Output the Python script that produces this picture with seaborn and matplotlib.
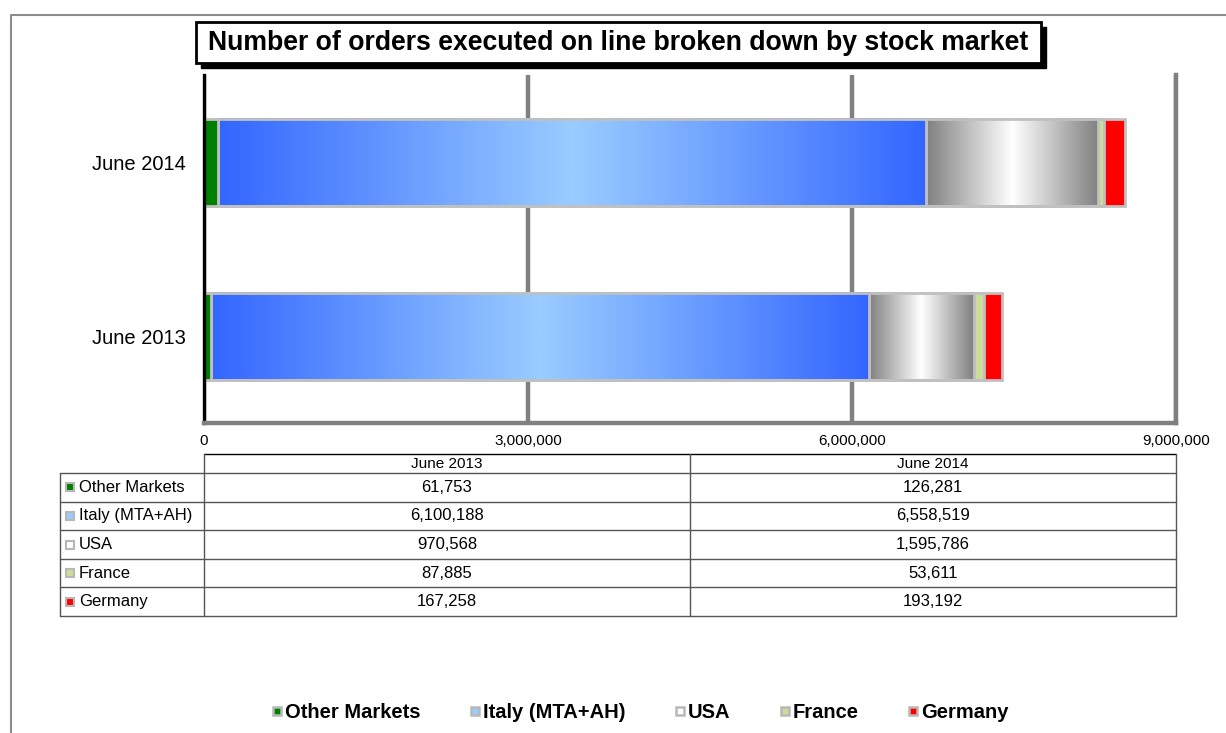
import numpy as np
import pandas as pd
import seaborn as sns
import matplotlib.pyplot as plt
from matplotlib.colors import LinearSegmentedColormap
from matplotlib.lines import Line2D
from matplotlib.patches import Rectangle
from matplotlib.ticker import FuncFormatter

# data
months = ['June 2013', 'June 2014']
markets = ['Other Markets', 'Italy (MTA+AH)', 'USA', 'France', 'Germany']
orders_2013 = [61753, 6100188, 970568, 87885, 167258]
orders_2014 = [126281, 6558519, 1595786, 53611, 193192]
x_ticks = [0, 3000000, 6000000, 9000000]
title = 'Number of orders executed on line broken down by stock market'

colors = ['#008000', '#99ccff', '#ffffff', '#ccdd99', '#ff0000']
gradients = {'Italy (MTA+AH)': ['#3366ff', '#99ccff'], 'USA': ['#808080', '#ffffff']}
edge = '#c0c0c0'

W, H = 1226, 733
def fx(px):
    return px / W
def fy(py):
    return 1 - py / H

sns.set_theme(style='white')
plt.rcParams['font.family'] = ['Liberation Sans', 'DejaVu Sans']
plt.rcParams['text.color'] = 'black'
narrow = ['Liberation Sans Narrow', 'Liberation Sans', 'DejaVu Sans']

df = pd.DataFrame([orders_2013, orders_2014], index=months, columns=markets)
cum = df.cumsum(axis=1)
bar_order = ['June 2014', 'June 2013']
plot_df = cum.reset_index().rename(columns={'index': 'Month'})

fig = plt.figure(figsize=(12.26, 7.33), dpi=100)
ax = fig.add_axes([fx(204), fy(423), fx(1176) - fx(204), fy(75) - fy(423)])

# stacked bars: draw cumulative totals from the longest down
for i in range(len(markets) - 1, -1, -1):
    m = markets[i]
    sns.barplot(data=plot_df, x=m, y='Month', order=bar_order, orient='h',
                color=colors[i], saturation=1, width=0.5,
                edgecolor=edge, linewidth=2, ax=ax)
    if m in gradients:
        cmap = LinearSegmentedColormap.from_list(m, gradients[m])
        t = np.linspace(0, 1, 256)
        grad = (1 - np.abs(2 * t - 1))[np.newaxis, :]
        prev = markets[i - 1]
        for p, month in zip(ax.patches[-2:], bar_order):
            x0 = cum.loc[month, prev]
            x1 = cum.loc[month, m]
            y, h = p.get_y(), p.get_height()
            ax.imshow(grad, extent=(x0, x1, y + h, y), cmap=cmap, aspect='auto',
                      interpolation='bilinear', zorder=1)
            ax.add_patch(Rectangle((x0, y), x1 - x0, h, fill=False,
                                   edgecolor=edge, linewidth=2, zorder=1))

ax.set_xlim(0, 9000000)
ax.set_ylim(1.5, -0.5)
ax.set_xticks(x_ticks)
ax.xaxis.set_major_formatter(FuncFormatter(lambda v, _: f'{v:,.0f}'))
ax.set_xlabel('')
ax.set_ylabel('')
ax.grid(axis='x', color='#808080', linewidth=3.2)
ax.grid(axis='y', visible=False)
ax.set_axisbelow(True)
ax.tick_params(axis='x', length=0, labelsize=11, pad=8, colors='black')
ax.tick_params(axis='y', length=0, labelsize=14.5, pad=13, colors='black')
ax.spines['top'].set_visible(False)
ax.spines['left'].set_color('black')
ax.spines['left'].set_linewidth(2.4)
for s in ['bottom', 'right']:
    ax.spines[s].set_color('#808080')
    ax.spines[s].set_linewidth(3.2)

# outer frame
fig.add_artist(Line2D([fx(11), fx(11), fx(W)], [fy(H), fy(15), fy(15)],
                      transform=fig.transFigure, color='#8c8c8c', linewidth=1.5))

# title box with shadow
fig.add_artist(Rectangle((fx(201), fy(68)), fx(845), 41 / H, transform=fig.transFigure,
                         facecolor='black', edgecolor='black'))
fig.add_artist(Rectangle((fx(196), fy(63)), fx(845), 41 / H, transform=fig.transFigure,
                         facecolor='white', edgecolor='black', linewidth=2))
fig.text(fx(618.5), fy(42.5), title, ha='center', va='center', fontsize=19.2,
         fontweight='bold', family=narrow)

# data table
def hline(y, x0, x1, color='#555555'):
    fig.add_artist(Line2D([fx(x0), fx(x1)], [fy(y), fy(y)], transform=fig.transFigure,
                          color=color, linewidth=1))
def vline(x, y0, y1, color='#555555'):
    fig.add_artist(Line2D([fx(x), fx(x)], [fy(y0), fy(y1)], transform=fig.transFigure,
                          color=color, linewidth=1))

row_edges = [473, 501.6, 530.2, 558.8, 587.4, 616]
col_centers = [447, 933]
hline(454, 204, 1176, 'black')
for y in row_edges:
    hline(y, 60, 1176)
vline(60, 473, 616)
for x in [204, 690, 1176]:
    vline(x, 454, 616)
for cx, month in zip(col_centers, months):
    fig.text(fx(cx), fy(463.5), month, ha='center', va='center', fontsize=11)
for r, m in enumerate(markets):
    yc = (row_edges[r] + row_edges[r + 1]) / 2
    fig.add_artist(Line2D([fx(69.5)], [fy(yc)], transform=fig.transFigure, marker='s',
                          markersize=5.5, markerfacecolor=colors[r],
                          markeredgecolor='#b8b8b8', markeredgewidth=1.5))
    fig.text(fx(79), fy(yc), m, ha='left', va='center', fontsize=12)
    for cx, month in zip(col_centers, months):
        fig.text(fx(cx), fy(yc), f'{df.loc[month, m]:,}', ha='center', va='center',
                 fontsize=12)

# legend
handles = [Line2D([], [], linestyle='none', marker='s', markersize=6,
                  markerfacecolor=c, markeredgecolor='#b8b8b8', markeredgewidth=1.8)
           for c in colors]
fig.legend(handles, markets, loc='center', bbox_to_anchor=(fx(641), fy(713)), ncol=5,
           frameon=False, handlelength=0.4, handletextpad=0.2, columnspacing=2.5,
           prop={'family': narrow, 'weight': 'bold', 'size': 14.5})

fig.savefig('out.png', dpi=100)
